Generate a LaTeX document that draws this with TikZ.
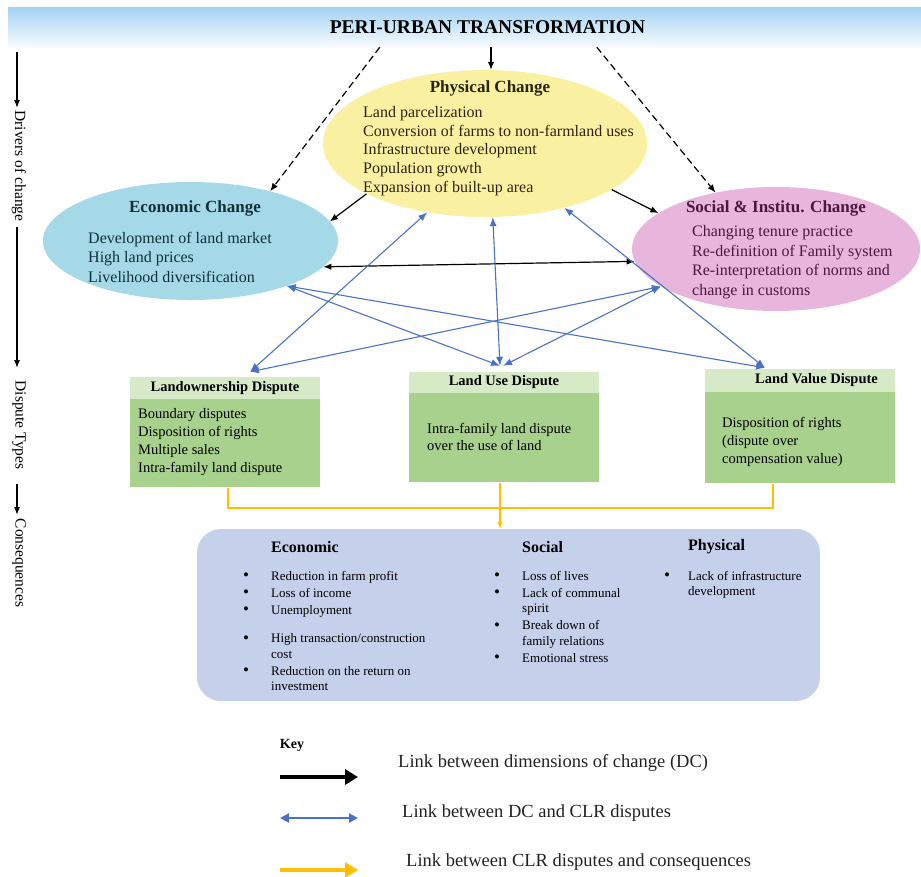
\documentclass[tikz,border=0pt]{standalone}
\usepackage{fontspec}
\setmainfont{Liberation Serif}
\usetikzlibrary{shapes.geometric,arrows.meta,calc}

\definecolor{bannerblue}{HTML}{A3D2F2}
\definecolor{ecofill}{HTML}{A6D9E7}
\definecolor{physfill}{HTML}{FAF0A2}
\definecolor{socfill}{HTML}{E8B6DD}
\definecolor{hdrgreen}{HTML}{D7EAC8}
\definecolor{bodygreen}{HTML}{A9D18E}
\definecolor{consfill}{HTML}{C5D0EB}
\definecolor{linkblue}{HTML}{4A72C4}
\definecolor{linkyellow}{HTML}{FFC000}
\definecolor{ecotext}{HTML}{10303A}
\definecolor{phystext}{HTML}{2A2412}
\definecolor{soctext}{HTML}{4A1840}
\definecolor{keytext}{HTML}{222222}

\newcommand{\blt}[1]{\makebox[#1][l]{\fontsize{17}{15.5}\selectfont\raisebox{-0.5pt}{\textbullet}}}

\begin{document}
\begin{tikzpicture}[x=1pt,y=-1pt,
  oval/.style={ellipse, inner sep=0},
  ovaltitle/.style={inner sep=0, font=\fontsize{17}{20}\selectfont\bfseries},
  ovalbody/.style={inner sep=0, anchor=west, align=left, font=\fontsize{16}{19.5}\selectfont},
  dhead/.style={rectangle, fill=hdrgreen, minimum width=190, inner sep=0, font=\fontsize{14.5}{16}\selectfont\bfseries},
  dbody/.style={rectangle, fill=bodygreen, minimum width=190, inner sep=0},
  dtext/.style={inner sep=0, anchor=west, align=left, font=\fontsize{14.5}{17.7}\selectfont},
  axislabel/.style={inner sep=0, rotate=-90, font=\fontsize{15.5}{18}\selectfont},
  axisarrow/.style={line width=1.2pt, -{Latex[length=8pt,width=6pt]}},
  blacklink/.style={line width=1.2pt, -{Latex[length=8pt,width=6.5pt]}},
  dashlink/.style={blacklink, dash pattern=on 7pt off 4pt},
  bothblack/.style={line width=1.2pt, {Latex[length=8pt,width=6.5pt]}-{Latex[length=8pt,width=6.5pt]}},
  bluelink/.style={linkblue, line width=1.1pt, {Latex[length=9pt,width=7pt]}-{Latex[length=9pt,width=7pt]}},
  yellowlink/.style={linkyellow, line width=1.4pt},
  conshead/.style={inner sep=0, anchor=west, font=\fontsize{16}{19}\selectfont\bfseries},
  consitems/.style={inner sep=0, anchor=north west, align=left, font=\fontsize{13}{15.5}\selectfont},
  keylabel/.style={inner sep=0, anchor=west, text=keytext, font=\fontsize{18.5}{22}\selectfont}
]
\useasboundingbox (0,0) rectangle (921,876);

% ---------- banner ----------
\node[rectangle, minimum width=913, minimum height=40, inner sep=0,
      top color=bannerblue, bottom color=bannerblue!8!white,
      font=\fontsize{19.5}{22}\selectfont\bfseries] (banner) at (464.5,27)
      {\hspace*{46pt}PERI-URBAN TRANSFORMATION};

% ---------- stage axis on the left ----------
\coordinate (ax0) at (17,52);
\node[axislabel] (drivers) at (19,166) {Drivers of change};
\node[axislabel] (types)   at (19,425) {Dispute Types};
\node[axislabel] (conseq)  at (19,563) {Consequences};
\draw[axisarrow] (ax0) -- (17,108);
\draw[axisarrow] (17,227) -- (17,368);
\draw[axisarrow] (17,484) -- (17,515);

% ---------- dimensions of change ----------
\node[oval, fill=physfill, minimum width=324, minimum height=147] (phys) at (485,143.5) {};
\node[ovaltitle, text=phystext] (physT) at (490,88) {Physical Change};
\node[ovalbody, text=phystext, font=\fontsize{16}{18.7}\selectfont] (physB) at (363,151)
  {Land parcelization\\ Conversion of farms to non-farmland uses\\ Infrastructure development\\ Population growth\\ Expansion of built-up area};

\node[oval, fill=ecofill, minimum width=295, minimum height=118] (eco) at (190.5,241) {};
\node[ovaltitle, text=ecotext] (ecoT) at (195,208) {Economic Change};
\node[ovalbody, text=ecotext] (ecoB) at (88,257)
  {Development of land market\\ High land prices\\ Livelihood diversification};

\node[oval, fill=socfill, minimum width=288, minimum height=124] (soc) at (776,249) {};
\node[ovaltitle, text=soctext] (socT) at (776,208) {Social \& Institu. Change};
\node[ovalbody, text=soctext] (socB) at (692,262)
  {Changing tenure practice\\ Re-definition of Family system\\ Re-interpretation of norms and\\ change in customs};

% ---------- dispute types ----------
\node[dhead, minimum height=22] (lownH) at (225,388) {Landownership Dispute};
\node[dbody, minimum height=88, anchor=north] (lownB) at (lownH.south) {};
\node[dtext] (lownT) at (138,442)
  {Boundary disputes\\ Disposition of rights\\ Multiple sales\\ Intra-family land dispute};

\node[dhead, minimum height=21] (luH) at (504,382.5) {Land Use Dispute};
\node[dbody, minimum height=89, anchor=north] (luB) at (luH.south) {};
\node[dtext] (luT) at (427,437)
  {Intra-family land dispute\\ over the use of land};

\node[dhead, minimum height=23] (lvH) at (800,380.5) {\hspace*{33pt}Land Value Dispute};
\node[dbody, minimum height=91, anchor=north] (lvB) at (lvH.south) {};
\node[dtext] (lvT) at (722,442)
  {Disposition of rights\\ (dispute over\\ compensation value)};

% ---------- consequences ----------
\node[rectangle, rounded corners=24, fill=consfill, minimum width=623, minimum height=172] (cons) at (508.5,615) {};
\node[conshead] (consEco)  at (271,547) {Economic};
\node[conshead] (consSoc)  at (522,547) {Social};
\node[conshead] (consPhys) at (688,547) {Physical};

\node[consitems] (ecoItems) at (243,571)
  {\blt{28pt}Reduction in farm profit\\[1.5pt]
   \blt{28pt}Loss of income\\[1.5pt]
   \blt{28pt}Unemployment\\[13pt]
   \blt{28pt}High transaction/construction\\
   \hspace*{28pt}cost\\[1.5pt]
   \blt{28pt}Reduction on the return on\\
   \hspace*{28pt}investment};

\node[consitems] (socItems) at (494,571)
  {\blt{28pt}Loss of lives\\[1.5pt]
   \blt{28pt}Lack of communal\\
   \hspace*{28pt}spirit\\[1.5pt]
   \blt{28pt}Break down of\\
   \hspace*{28pt}family relations\\[1.5pt]
   \blt{28pt}Emotional stress};

\node[consitems] (physItems) at (664,571)
  {\blt{24pt}Lack of infrastructure\\
   \hspace*{24pt}development};

% ---------- links from the banner ----------
\draw[blacklink] (banner.south -| phys.north) ++(6,0) -- ([xshift=6pt]phys.north);
\draw[dashlink] ($(banner.south west)+(372,0)$) -- (eco.32.5);
\draw[dashlink] ($(banner.south west)+(589,0)$) -- (soc.137);

% ---------- links between dimensions of change ----------
\draw[blacklink] (phys.203) -- (eco.8);
\draw[blacklink] (phys.-20) -- (soc.163);
\draw[bothblack] (eco.-11.3) -- (soc.185.6);

% ---------- links between dimensions of change and disputes ----------
\draw[bluelink] ([xshift=25pt,yshift=5pt]lownH.north) -- (phys.230);
\draw[bluelink] ([xshift=25pt,yshift=5pt]lownH.north) -- (soc.198);
\draw[bluelink] ([xshift=-4pt,yshift=6pt]luH.north) -- (phys.276);
\draw[bluelink] ([xshift=-4pt,yshift=6pt]luH.north) -- (eco.-25);
\draw[bluelink] ([xshift=-1pt,yshift=6pt]luH.north) -- (soc.198);
\draw[bluelink] ([xshift=-35pt,yshift=1pt]lvH.north) -- (eco.-25);
\draw[bluelink] ([xshift=-35pt,yshift=1pt]lvH.north) -- (phys.-39.5);

% ---------- links from disputes to consequences ----------
\coordinate (yjoin) at (500,508);
\draw[yellowlink] ([xshift=3pt]lownB.south) |- (yjoin) -| ([xshift=-27pt]lvB.south);
\draw[yellowlink, -{Latex[length=7pt,width=6pt]}] ([xshift=-4pt]luB.south) -- ([xshift=-8.5pt]cons.north);

% ---------- key ----------
\node[inner sep=0, font=\fontsize{14}{16}\selectfont\bfseries] (keyT) at (292,745) {Key};
\coordinate (k1a) at (280,777); \coordinate (k1b) at (358,777);
\coordinate (k2a) at (280,818); \coordinate (k2b) at (358,818);
\coordinate (k3a) at (280,870); \coordinate (k3b) at (358,870);
\draw[line width=4.5pt, -{Triangle[length=13pt,width=15pt]}] (k1a) -- (k1b);
\draw[linkblue, line width=2.4pt, {Triangle[length=9pt,width=9pt]}-{Triangle[length=9pt,width=9pt]}] (k2a) -- (k2b);
\draw[linkyellow, line width=4.5pt, -{Triangle[length=13pt,width=15pt]}] (k3a) -- (k3b);
\node[keylabel] (key1) at (398,763) {Link between dimensions of change (DC)};
\node[keylabel] (key2) at (402,813) {Link between DC and CLR disputes};
\node[keylabel] (key3) at (406,862) {Link between CLR disputes and consequences};
\end{tikzpicture}
\end{document}
